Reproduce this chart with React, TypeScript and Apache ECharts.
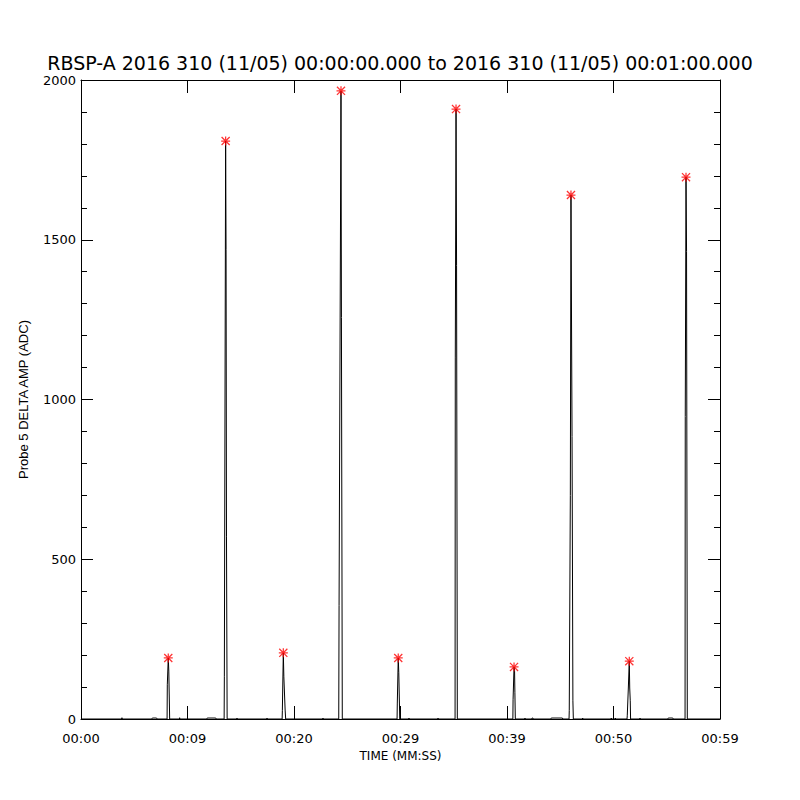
import React, { useEffect, useRef } from "react";
import * as echarts from "echarts";

const titleText = "RBSP-A 2016 310 (11/05) 00:00:00.000 to 2016 310 (11/05) 00:01:00.000";
const xTickLabels = ["00:00", "00:09", "00:20", "00:29", "00:39", "00:50", "00:59"];
const xMax = 59.6;
const yMax = 2000;

// sample times (s) and amplitudes (ADC)
const sampleTimes = [
  0, 3.78, 3.82, 3.86, 6.6, 6.65, 7.05, 7.1,
  8.03, 8.05, 8.14, 8.19, 8.23, 8.27,
  9.18, 9.2, 9.22, 11.73, 11.77, 12.57, 12.61,
  13.35, 13.37, 13.49, 13.53, 13.57, 13.63,
  14.53, 14.55, 14.57, 17.33, 17.35, 17.37,
  18.76, 18.78, 18.87, 18.92, 18.97, 19.04, 19.09,
  22.55, 22.57, 22.59,
  24.04, 24.07, 24.25, 24.29, 24.37,
  29.48, 29.5, 29.59, 29.64, 29.69, 29.73,
  30.57, 30.59, 30.61, 33.28, 33.3, 33.32,
  34.89, 34.91, 34.98, 35.03, 35.1,
  40.28, 40.3, 40.39, 40.44, 40.47, 40.51,
  41.39, 41.41, 41.43, 42.04, 42.07, 42.15, 42.18, 43.82, 43.86, 44.9, 44.94,
  45.52, 45.54, 45.64, 45.7, 45.8, 45.88, 45.92,
  46.77, 46.79, 46.81, 49.44, 49.46, 49.48, 49.82, 49.84, 49.86,
  50.93, 50.95, 51.05, 51.14, 51.18, 51.23, 51.26,
  52.12, 52.14, 52.16, 54.73, 54.77, 55.2, 55.24,
  56.34, 56.36, 56.43, 56.48, 56.55,
  59.6,
];
const sampleAmps = [
  0, 0, 4, 0, 0, 3, 3, 0,
  0, 107, 191, 150, 150, 0,
  0, 4, 0, 0, 3, 3, 0,
  0, 132, 1809, 1470, 570, 0,
  0, 3, 0, 0, 3, 0,
  0, 26, 207, 132, 132, 28, 0,
  0, 3, 0,
  0, 355, 1966, 1257, 0,
  0, 47, 191, 145, 145, 0,
  0, 3, 0, 0, 3, 0,
  0, 1130, 1909, 1420, 0,
  0, 60, 163, 151, 82, 0,
  0, 3, 0, 0, 3, 3, 0, 0, 3, 3, 0,
  0, 26, 700, 1640, 884, 57, 0,
  0, 3, 0, 0, 3, 0, 0, 3, 0,
  0, 10, 97, 181, 97, 57, 0,
  0, 3, 0, 0, 3, 3, 0,
  0, 947, 1696, 1463, 0,
  0,
];

// marked peaks
const peakTimes = [8.14, 13.49, 18.87, 24.25, 29.59, 34.98, 40.39, 45.7, 51.14, 56.43];
const peakAmps = [191, 1809, 207, 1966, 191, 1909, 163, 1640, 181, 1696];

const starPath =
  "path://M4.3 0H5.7V10H4.3Z M0 4.3H10V5.7H0Z M0 1L1 0L10 9L9 10Z M9 0L10 1L1 10L0 9Z";

export default function App() {
  const ref = useRef<HTMLDivElement>(null);
  useEffect(() => {
    if (!ref.current) return;
    const chart = echarts.init(ref.current, null, { renderer: "svg" });
    const step = xMax / (xTickLabels.length - 1);
    const xTicks = xTickLabels.map((_, i) => i * step);
    const font = "DejaVu Sans";
    const lineData = sampleTimes.map((t, i) => [t, sampleAmps[i]]);
    const peakData = peakTimes.map((t, i) => [t, peakAmps[i]]);
    const xBase = {
      type: "value" as const,
      min: 0,
      max: xMax,
      axisLine: { show: true, onZero: false, lineStyle: { color: "#000", width: 1 } },
      splitLine: { show: false },
    };
    const yBase = {
      type: "value" as const,
      min: 0,
      max: yMax,
      interval: 500,
      axisLine: { show: true, onZero: false, lineStyle: { color: "#000", width: 1 } },
      axisTick: { show: true, inside: true, length: 12, lineStyle: { color: "#000" } },
      minorTick: { show: true, splitNumber: 5, length: 6, lineStyle: { color: "#000" } },
      splitLine: { show: false },
      minorSplitLine: { show: false },
    };
    chart.setOption({
      animation: false,
      backgroundColor: "#fff",
      title: {
        text: titleText,
        left: "center",
        top: 53,
        padding: 0,
        textStyle: { fontFamily: font, fontSize: 19, fontWeight: "normal", color: "#000", lineHeight: 19 },
      },
      grid: { left: 81, right: 80, top: 80, bottom: 81, containLabel: false },
      xAxis: [
        {
          ...xBase,
          position: "bottom",
          name: "TIME (MM:SS)",
          nameLocation: "middle",
          nameGap: 31,
          nameTextStyle: { fontFamily: font, fontSize: 12, color: "#000" },
          axisTick: { show: true, inside: true, length: 13, customValues: xTicks, lineStyle: { color: "#000" } },
          axisLabel: {
            show: true,
            customValues: xTicks,
            margin: 13,
            fontFamily: font,
            fontSize: 13,
            color: "#000",
            formatter: (v: number) => xTickLabels[Math.round(v / step)] ?? "",
          },
        },
        {
          ...xBase,
          position: "top",
          axisTick: { show: true, inside: true, length: 13, customValues: xTicks, lineStyle: { color: "#000" } },
          axisLabel: { show: false },
        },
      ],
      yAxis: [
        {
          ...yBase,
          position: "left",
          name: "Probe 5 DELTA AMP (ADC)",
          nameLocation: "middle",
          nameRotate: 90,
          nameGap: 51,
          nameTextStyle: { fontFamily: "Liberation Sans", fontSize: 13, color: "#000" },
          axisLabel: {
            show: true,
            margin: 5,
            fontFamily: font,
            fontSize: 13,
            color: "#000",
            formatter: (v: number) => String(v),
          },
        },
        {
          ...yBase,
          position: "right",
          axisLabel: { show: false },
        },
      ],
      series: [
        {
          type: "line",
          xAxisIndex: 0,
          yAxisIndex: 0,
          data: lineData,
          showSymbol: false,
          symbol: "none",
          lineStyle: { color: "#000", width: 1 },
          z: 2,
        },
        {
          type: "scatter",
          xAxisIndex: 0,
          yAxisIndex: 0,
          data: peakData,
          symbol: starPath,
          symbolSize: 9,
          itemStyle: { color: "#ff0000" },
          z: 3,
        },
      ],
    });
    return () => chart.dispose();
  }, []);
  return <div ref={ref} style={{ width: 800, height: 800, position: "absolute", left: 0, top: 0 }} />;
}
